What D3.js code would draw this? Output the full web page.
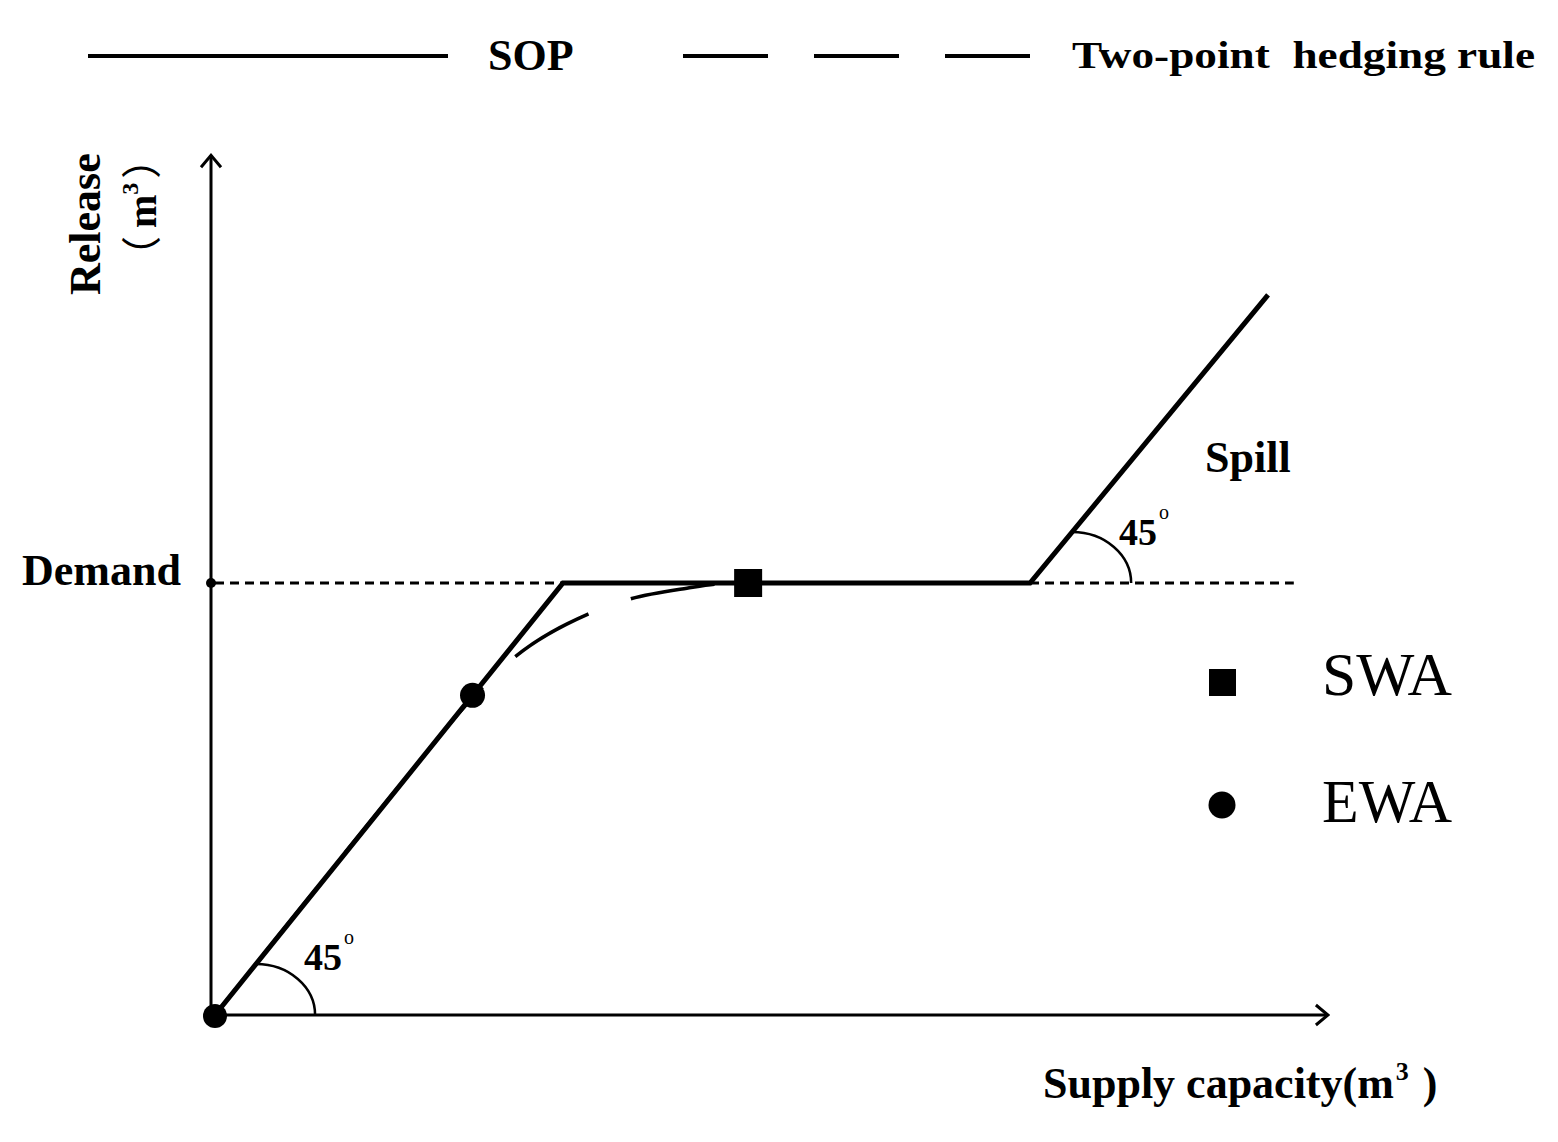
<!DOCTYPE html>
<html>
<head>
<meta charset="utf-8">
<script src="https://cdn.jsdelivr.net/npm/d3@7"></script>
<style>
  body { margin: 0; background: #fff; }
  text { font-family: "Liberation Serif", "Times New Roman", serif; fill: #000; }
</style>
</head>
<body>
<svg id="chart" width="1558" height="1142"></svg>
<script>
// release rule in relative units (demand = 1)
var demand = 1;
var sopX = [0, 1, 2.342, 3.026];
var sopY = [0, 1, 1, 1.667];
// two-point hedging curve
var hedgeX = [0, 0.6, 0.7, 0.862, 1.072, 1.193, 1.356, 1.451, 1.532];
var hedgeY = [0, 0.6, 0.698, 0.829, 0.928, 0.963, 0.988, 0.998, 1];
var swa = [1.532, 1];
var ewa = [0.74, 0.74];
var xMax = 3.198, yMax = 1.99;
var demandLineEnd = 3.1;
var legendItems = ["SOP", "Two-point  hedging rule"];
var markerItems = ["SWA", "EWA"];

var svg = d3.select("#chart");

var x = d3.scaleLinear().domain([0, 1]).range([215, 563]);
var y = d3.scaleLinear().domain([0, 1]).range([1015, 583]);

var line = d3.line()
  .x(function(d) { return x(d[0]); })
  .y(function(d) { return y(d[1]); });

// arrow head
svg.append("defs").append("marker")
  .attr("id", "arrow")
  .attr("viewBox", "-14 -12 16 24")
  .attr("refX", 0).attr("refY", 0)
  .attr("markerWidth", 16).attr("markerHeight", 24)
  .attr("markerUnits", "userSpaceOnUse")
  .attr("orient", "auto")
  .append("path")
  .attr("d", "M-12,-10L0,0L-12,10")
  .attr("fill", "none")
  .attr("stroke", "#000")
  .attr("stroke-width", 3);

// axes
svg.append("line")
  .attr("x1", x(0) - 4).attr("y1", y(0))
  .attr("x2", x(0) - 4).attr("y2", y(yMax))
  .attr("stroke", "#000").attr("stroke-width", 3)
  .attr("marker-end", "url(#arrow)");
svg.append("line")
  .attr("x1", x(0)).attr("y1", y(0))
  .attr("x2", x(xMax)).attr("y2", y(0))
  .attr("stroke", "#000").attr("stroke-width", 3)
  .attr("marker-end", "url(#arrow)");

// demand level (dotted)
svg.append("line")
  .attr("x1", x(0)).attr("y1", y(demand))
  .attr("x2", x(1)).attr("y2", y(demand))
  .attr("stroke", "#000").attr("stroke-width", 3)
  .attr("stroke-dasharray", "9,6");
svg.append("line")
  .attr("x1", x(sopX[2])).attr("y1", y(demand))
  .attr("x2", x(demandLineEnd)).attr("y2", y(demand))
  .attr("stroke", "#000").attr("stroke-width", 3)
  .attr("stroke-dasharray", "9,6");
svg.append("circle")
  .attr("cx", x(0) - 4).attr("cy", y(demand)).attr("r", 5);

// 45 degree marks: quarter ellipse from the rising line down to the base
function angleMark(bx, by, slope) {
  var ry = 51, rx = 59;
  var cx = bx + ry / slope;
  svg.append("path")
    .attr("d", "M" + cx + "," + (by - ry) + " A" + rx + "," + ry + " 0 0 1 " + (cx + rx) + "," + by)
    .attr("fill", "none").attr("stroke", "#000").attr("stroke-width", 2.5);
}
var pxSlope = (y(0) - y(1)) / (x(1) - x(0));
angleMark(x(0), y(0), pxSlope);
angleMark(x(sopX[2]), y(demand), (y(sopY[2]) - y(sopY[3])) / (x(sopX[3]) - x(sopX[2])));

// hedging curve (dashed)
svg.append("path")
  .attr("d", line.curve(d3.curveMonotoneX)(d3.zip(hedgeX, hedgeY)))
  .attr("fill", "none").attr("stroke", "#000").attr("stroke-width", 3.5)
  .attr("stroke-dasharray", "85,45")
  .attr("stroke-dashoffset", 52);

// SOP
svg.append("path")
  .attr("d", line.curve(d3.curveLinear)(d3.zip(sopX, sopY)))
  .attr("fill", "none").attr("stroke", "#000").attr("stroke-width", 5)
  .attr("stroke-linejoin", "miter");

// points
svg.append("circle").attr("cx", x(0)).attr("cy", y(0) + 1).attr("r", 12);
svg.append("circle").attr("cx", x(ewa[0])).attr("cy", y(ewa[1])).attr("r", 12.5);
svg.append("rect")
  .attr("x", x(swa[0]) - 14).attr("y", y(swa[1]) - 14)
  .attr("width", 28).attr("height", 28);

// angle labels
function degLabel(px, py) {
  var t = svg.append("text").attr("x", px).attr("y", py)
    .attr("font-size", 38).attr("font-weight", "bold");
  t.append("tspan").text("45");
  t.append("tspan").attr("font-size", 20).attr("font-weight", "normal")
    .attr("dx", 2).attr("dy", -26).text("o");
}
degLabel(304, 970);
degLabel(1119, 545);

// labels
svg.append("text").attr("x", 22).attr("y", 585)
  .attr("font-size", 44).attr("font-weight", "bold").text("Demand");
svg.append("text").attr("x", 1205).attr("y", 472)
  .attr("font-size", 44).attr("font-weight", "bold").text("Spill");

var xl = svg.append("text").attr("x", 1043).attr("y", 1098)
  .attr("font-size", 44).attr("font-weight", "bold");
xl.append("tspan").text("Supply capacity(m");
xl.append("tspan").attr("font-size", 26).attr("dy", -18).attr("dx", 2).text("3");
xl.append("tspan").attr("dy", 18).attr("dx", 14).text(")");

svg.append("text")
  .attr("transform", "translate(100,295) rotate(-90)")
  .attr("font-size", 44).attr("font-weight", "bold").text("Release");
var yl = svg.append("text")
  .attr("transform", "translate(156,276) rotate(-90)")
  .attr("font-size", 40).attr("font-weight", "bold");
yl.append("tspan").attr("font-family", "Noto Sans CJK SC").attr("font-weight", "normal").text("（");
yl.append("tspan").attr("dx", 8).text("m");
yl.append("tspan").attr("font-size", 24).attr("dy", -18).text("3");
yl.append("tspan").attr("dy", 18).attr("dx", 4).attr("font-family", "Noto Sans CJK SC").attr("font-weight", "normal").text("）");

// top legend
svg.append("line").attr("x1", 88).attr("y1", 56).attr("x2", 448).attr("y2", 56)
  .attr("stroke", "#000").attr("stroke-width", 4);
svg.append("text").attr("x", 488).attr("y", 70)
  .attr("font-size", 44).attr("font-weight", "bold").text(legendItems[0]);
svg.append("line").attr("x1", 683).attr("y1", 56).attr("x2", 1030).attr("y2", 56)
  .attr("stroke", "#000").attr("stroke-width", 4)
  .attr("stroke-dasharray", "85,46");
svg.append("text").attr("x", 1072).attr("y", 68)
  .attr("font-size", 38).attr("font-weight", "bold")
  .attr("textLength", 463).attr("lengthAdjust", "spacingAndGlyphs")
  .style("white-space", "pre")
  .text(legendItems[1]);

// marker legend
svg.append("rect").attr("x", 1209).attr("y", 669).attr("width", 27).attr("height", 27);
svg.append("circle").attr("cx", 1222).attr("cy", 805).attr("r", 13.5);
svg.selectAll("text.mk").data(markerItems).enter().append("text")
  .attr("class", "mk")
  .attr("x", 1322).attr("y", function(d, i) { return 695 + i * 127; })
  .attr("font-size", 62)
  .attr("textLength", 130).attr("lengthAdjust", "spacingAndGlyphs")
  .text(function(d) { return d; });
</script>
</body>
</html>
